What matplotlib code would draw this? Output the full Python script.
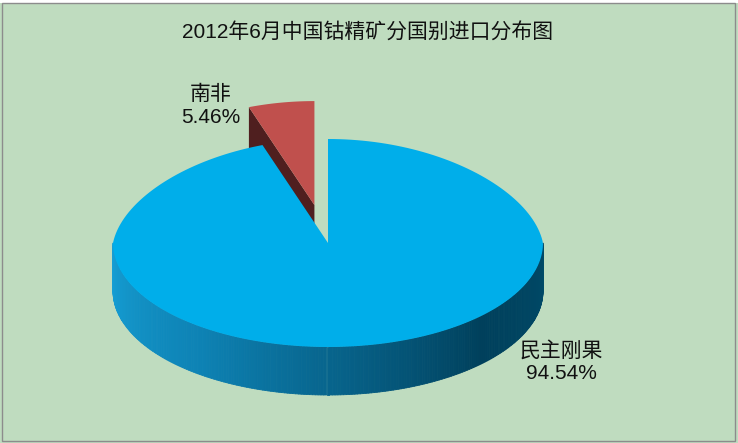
import numpy as np
import matplotlib.pyplot as plt
from matplotlib.patches import Polygon, Rectangle
from matplotlib.collections import PolyCollection

plt.rcParams['font.family'] = ['Liberation Sans', 'Noto Sans CJK SC', 'DejaVu Sans']

title = '2012年6月中国钴精矿分国别进口分布图'
countries = ['民主刚果', '南非']
shares = [94.54, 5.46]
top_colors = ['#00AEEA', '#C0504D']
cut_colors = ['#00597A', '#4F1F1F']
explode = [0.0, 0.37]

# pie geometry (pixels, y down)
cx, cy = 328, 243
a, b = 215, 104
depth = 48


def pt(theta, r=1.0, off=(0, 0), z=0):
    t = np.radians(theta)
    # slight perspective: back of the pie a bit narrower
    k = 1 - 0.1 * max(np.sin(t), 0)
    return (cx + off[0] + a * r * k * np.cos(t), cy + off[1] - b * r * np.sin(t) + z)


fig = plt.figure(figsize=(7.38, 4.43), dpi=100)
fig.patch.set_facecolor('#BFDCBF')
ax = fig.add_axes([0, 0, 1, 1])
ax.set_xlim(0, 738)
ax.set_ylim(443, 0)
ax.axis('off')

ax.add_patch(Rectangle((0, 0), 738, 3, facecolor='white', edgecolor='none'))
ax.add_patch(Rectangle((2, 3), 733, 438, facecolor='none', edgecolor='#8C8C8C', lw=1))

# slice angle ranges, starting at 12 o'clock, clockwise
bounds = 90 - np.concatenate([[0], np.cumsum(shares)]) * 3.6
slices = []
for i in range(len(shares)):
    t0, t1 = bounds[i], bounds[i + 1]
    mid = np.radians((t0 + t1) / 2)
    off = (a * explode[i] * np.cos(mid), -b * explode[i] * np.sin(mid))
    slices.append((t0, t1, off))

# draw back slice (南非) first, then the big front slice
for i in [1, 0]:
    t0, t1, off = slices[i]
    arc = np.linspace(t0, t1, 200)
    apex = (cx + off[0], cy + off[1])

    # radial cut face on the left side of the small slice (the visible one)
    if i == 1:
        p_top = pt(t0, off=off)
        face = [apex, p_top, (p_top[0], p_top[1] + depth), (apex[0], apex[1] + depth)]
        ax.add_patch(Polygon(face, closed=True, facecolor=cut_colors[i], edgecolor='none'))

    # outer side wall, front half only, shaded
    lo, hi = max(min(t0, t1), -180), min(max(t0, t1), 0)
    if hi > lo:
        ang = np.linspace(lo, hi, 240)
        quads, cols = [], []
        for k in range(len(ang) - 1):
            p0, p1 = pt(ang[k], off=off), pt(ang[k + 1], off=off)
            quads.append([p0, p1, (p1[0], p1[1] + depth), (p0[0], p0[1] + depth)])
            s = (ang[k] + 180) / 180
            r = np.interp(s, [0, 0.75, 1], [22, 0, 0])
            g = np.interp(s, [0, 0.3, 0.75, 1], [160, 130, 64, 74])
            bl = np.interp(s, [0, 0.3, 0.75, 1], [214, 180, 92, 104])
            cols.append((r / 255, g / 255, bl / 255))
        ax.add_collection(PolyCollection(quads, facecolors=cols, edgecolors=cols, linewidths=0.6))

    # top face
    top = [apex] + [pt(t, off=off) for t in arc]
    ax.add_patch(Polygon(top, closed=True, facecolor=top_colors[i], edgecolor='none'))

ax.text(368, 33, title, ha='center', va='center', fontsize=15, color='#111111')

label_pos = [(561, 362), (211, 106)]
for name, val, (lx, ly) in zip(countries, shares, label_pos):
    ax.text(lx, ly, f'{name}\n{val:.2f}%', ha='center', va='center',
            fontsize=15, color='#111111', linespacing=1.25)

fig.savefig('out.png', dpi=100, facecolor=fig.get_facecolor())
